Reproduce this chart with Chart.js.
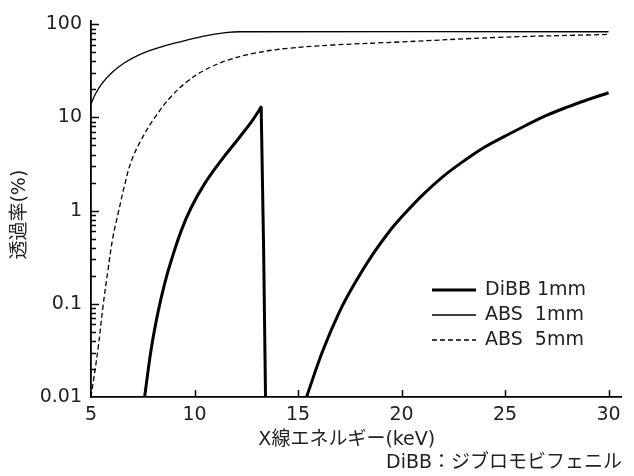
<!DOCTYPE html>
<html lang="ja">
<head>
<meta charset="utf-8">
<title>透過率</title>
<script src="https://cdn.jsdelivr.net/npm/chart.js@4.4.1/dist/chart.umd.min.js"></script>
<style>
  html, body { margin: 0; padding: 0; background: #fff; }
  #wrap { width: 634px; height: 476px; }
</style>
</head>
<body>
<div id="wrap"><canvas id="chart" width="634" height="476"></canvas></div>
<script>
// X線エネルギー (keV) と透過率 (%)
const energyDibb = [7.59, 7.91, 8.23, 8.56, 8.88, 9.36, 9.84, 10.49, 11.29, 12.09, 12.74, 13.12, 13.22, 13.43,
                    14.4,
                    15.41, 16.2, 17.0, 17.8, 18.6, 19.4, 20.2, 21.0, 22.0, 23.0, 24.0, 25.0, 26.0, 27.0, 28.0, 29.0, 30];
const dibb = [0.01, 0.033, 0.08, 0.166, 0.293, 0.61, 1.08, 1.95, 3.47, 5.8, 8.9, 11.9, 12.8, 0.01,
              null,
              0.01, 0.0315, 0.082, 0.175, 0.337, 0.594, 0.953, 1.46, 2.32, 3.4, 4.79, 6.3, 8.2, 10.5, 12.9, 15.5, 18.4];

const energyAbs1 = [5, 5.2, 5.5, 6.0, 6.6, 7.3, 8.2, 9.2, 10.4, 11.6, 12.2, 30];
const abs1 = [13.9, 17.6, 22.6, 30.1, 38.4, 46.7, 55.4, 63.9, 74.1, 81.7, 83.1, 83.1];

const energyAbs5 = [5, 5.34, 5.58, 5.82, 6.06, 6.3, 6.63, 6.94, 7.43, 8.07, 8.88, 9.68, 10.49, 11.6, 12.9, 14.5, 16.7, 19.9, 24.7, 30];
const abs5 = [0.01, 0.033, 0.094, 0.23, 0.52, 0.91, 1.9, 3.36, 5.78, 9.88, 16.9, 24.6, 32.2, 41.1, 48.9, 55.1, 59.9, 64.5, 72.3, 77.8];

const seriesNames = ['DiBB 1mm', 'ABS  1mm', 'ABS  5mm'];

const xTicks = [5, 10, 15, 20, 25, 30];
const xTickLabels = ['5', '10', '15', '20', '25', '30'];
const yTicks = [0.01, 0.1, 1, 10, 100];
const yTickLabels = ['0.01', '0.1', '1', '10', '100'];

const xTitle = 'X線エネルギー(keV)';
const yTitle = '透過率(%)';
const footNote = 'DiBB：ジブロモビフェニル';

const FONT = '"DejaVu Sans", "Noto Sans CJK JP", sans-serif';
const TEXT = '#222';

const toPoints = (xs, ys) => xs.map((x, i) => ({ x: x, y: ys[i] }));

// 内向きの目盛り、軸タイトル、凡例、注記
const decorations = {
  id: 'decorations',
  afterDraw(chart) {
    const { ctx, chartArea: a, scales: { x, y } } = chart;
    ctx.save();
    ctx.strokeStyle = '#000';
    ctx.lineWidth = 1.5;
    ctx.beginPath();
    yTicks.forEach((v, i) => {
      const py = Math.round(y.getPixelForValue(v)) + 0.5;
      if (i > 0) { ctx.moveTo(a.left, py); ctx.lineTo(a.left + 8, py); }
      if (i < yTicks.length - 1) {
        for (let m = 2; m <= 9; m++) {
          const pm = Math.round(y.getPixelForValue(v * m)) + 0.5;
          ctx.moveTo(a.left, pm); ctx.lineTo(a.left + 5, pm);
        }
      }
    });
    xTicks.forEach((v, i) => {
      if (i === 0) return;
      const px = Math.round(x.getPixelForValue(v)) + 0.5;
      ctx.moveTo(px, a.bottom); ctx.lineTo(px, a.bottom - 7);
    });
    ctx.stroke();

    ctx.fillStyle = TEXT;
    ctx.font = '19px ' + FONT;
    ctx.textBaseline = 'middle';

    // x title
    ctx.textAlign = 'center';
    const xMid = (x.getPixelForValue(xTicks[0]) + x.getPixelForValue(xTicks[xTicks.length - 1])) / 2;
    ctx.fillText(xTitle, xMid - 3, a.bottom + 43);

    // y title
    const yMid = (y.getPixelForValue(yTicks[0]) + y.getPixelForValue(yTicks[yTicks.length - 1])) / 2;
    ctx.save();
    ctx.translate(20, yMid + 4);
    ctx.rotate(-Math.PI / 2);
    ctx.fillText(yTitle, 0, 0);
    ctx.restore();

    // foot note
    ctx.textAlign = 'right';
    ctx.fillText(footNote, a.right + 1, a.bottom + 66);

    // legend
    ctx.textAlign = 'left';
    chart.data.datasets.forEach((ds, i) => {
      const ly = a.bottom - 107 + i * 25;
      ctx.save();
      ctx.strokeStyle = ds.borderColor;
      ctx.lineWidth = ds.borderWidth;
      ctx.setLineDash(ds.borderDash || []);
      ctx.beginPath();
      ctx.moveTo(a.right - 189, ly);
      ctx.lineTo(a.right - 145, ly);
      ctx.stroke();
      ctx.restore();
      ctx.fillText(ds.label, a.right - 136, ly);
    });
    ctx.restore();
  }
};

new Chart(document.getElementById('chart'), {
  type: 'line',
  data: {
    datasets: [
      {
        label: seriesNames[0],
        data: toPoints(energyDibb, dibb),
        borderColor: '#000',
        borderWidth: 3,
      },
      {
        label: seriesNames[1],
        data: toPoints(energyAbs1, abs1),
        borderColor: '#000',
        borderWidth: 1.3,
      },
      {
        label: seriesNames[2],
        data: toPoints(energyAbs5, abs5),
        borderColor: '#000',
        borderWidth: 1.3,
        borderDash: [5, 3],
      }
    ]
  },
  options: {
    responsive: false,
    animation: false,
    devicePixelRatio: 1,
    events: [],
    spanGaps: false,
    elements: {
      point: { radius: 0 },
      line: { tension: 0.4, fill: false, borderJoinStyle: 'round' }
    },
    layout: { padding: { top: 15, right: 13, bottom: 0, left: 0 } },
    plugins: {
      legend: { display: false },
      tooltip: { enabled: false },
      title: { display: false }
    },
    scales: {
      x: {
        type: 'linear',
        min: 5,
        max: 30.6,
        afterBuildTicks: s => { s.ticks = xTicks.map(v => ({ value: v })); },
        afterFit: s => { s.height = 79; },
        ticks: {
          callback: (v, i) => xTickLabels[i],
          color: TEXT,
          font: { family: FONT, size: 19 },
          padding: 7,
          maxRotation: 0,
          autoSkip: false
        },
        grid: { drawOnChartArea: false, drawTicks: false },
        border: { display: true, color: '#000', width: 1.8 }
      },
      y: {
        type: 'logarithmic',
        min: 0.01,
        max: 110,
        afterBuildTicks: s => { s.ticks = yTicks.map(v => ({ value: v })); },
        afterFit: s => { s.width = 91; },
        ticks: {
          callback: (v, i) => yTickLabels[i],
          color: TEXT,
          font: { family: FONT, size: 19 },
          padding: 9,
          autoSkip: false
        },
        grid: { drawOnChartArea: false, drawTicks: false },
        border: { display: true, color: '#000', width: 1.8 }
      }
    }
  },
  plugins: [decorations]
});
</script>
</body>
</html>
